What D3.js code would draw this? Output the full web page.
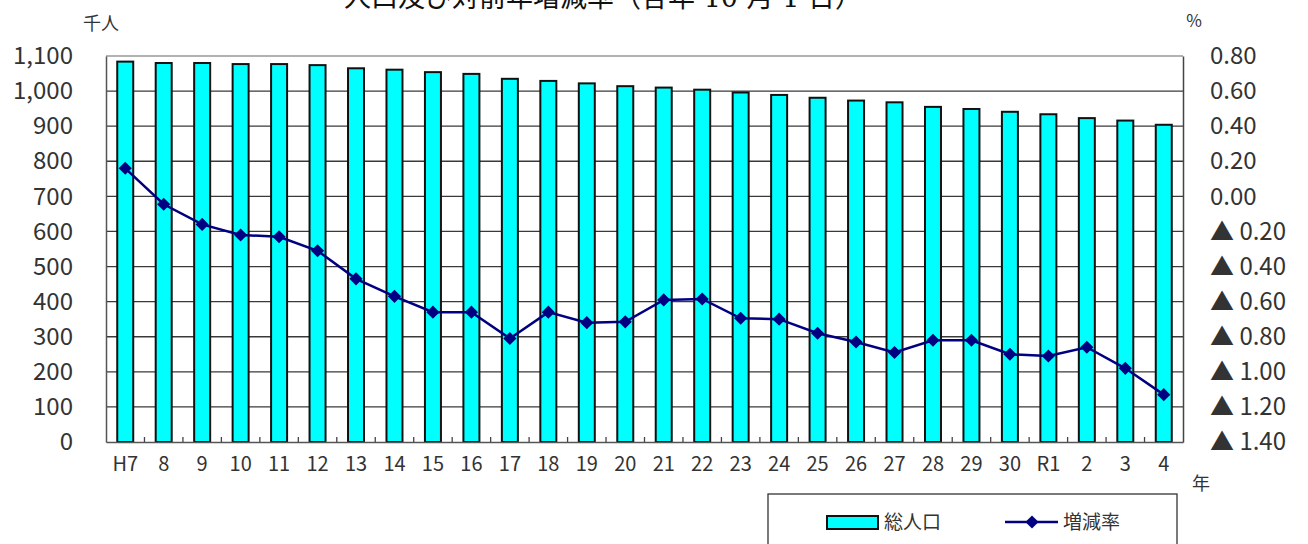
<!DOCTYPE html>
<html>
<head>
<meta charset="utf-8">
<script src="https://cdn.jsdelivr.net/npm/d3@7"></script>
<style>
  body { margin: 0; background: #fff; }
  text { font-family: "Noto Sans CJK JP", "Noto Sans", sans-serif; fill: #333; }
</style>
</head>
<body>
<svg id="chart" width="1308" height="544"></svg>
<script>
// years (H = Heisei, R = Reiwa)
const years = ["H7","8","9","10","11","12","13","14","15","16","17","18","19","20",
               "21","22","23","24","25","26","27","28","29","30","R1","2","3","4"];
// total population, thousand people
const population = [1084,1080,1080,1077,1077,1074,1065,1061,1054,1049,1035,1029,1022,1014,
                    1010,1004,996,989,981,973,968,955,949,941,934,923,916,904];
// change vs previous year, %
const changeRate = [0.16,-0.045,-0.16,-0.22,-0.23,-0.31,-0.47,-0.57,-0.66,-0.66,-0.81,-0.66,-0.72,-0.715,
                    -0.59,-0.585,-0.695,-0.70,-0.78,-0.83,-0.89,-0.82,-0.82,-0.90,-0.91,-0.86,-0.98,-1.13];
const leftTicks = d3.range(0, 1101, 100);
const rightTicks = [0.8,0.6,0.4,0.2,0,-0.2,-0.4,-0.6,-0.8,-1.0,-1.2,-1.4];

const svg = d3.select("#chart");
const margin = {top: 56, right: 125, bottom: 102, left: 106};
const W = 1308, H = 544;
const x0 = margin.left, x1 = W - margin.right;
const y0 = H - margin.bottom, y1 = margin.top;

const x = d3.scaleBand().domain(years).range([x0, x1]);
const yL = d3.scaleLinear().domain([0, 1100]).range([y0, y1]);
const yR = d3.scaleLinear().domain([-1.4, 0.8]).range([y0, y1]);

// title, cut off at the top of the picture like the original
svg.append("text")
    .attr("x", 603).attr("y", 7)
    .attr("text-anchor", "middle")
    .style("font-size", "27px")
    .style("font-family", "'DejaVu Serif', 'Noto Sans CJK JP', serif")
    .style("fill", "#111")
    .text("人口及び対前年増減率（各年 10 月 1 日）");

// gridlines
svg.append("g").selectAll("line")
    .data(leftTicks.filter(d => d > 0 && d < 1100))
    .join("line")
    .attr("x1", x0).attr("x2", x1)
    .attr("y1", d => yL(d)).attr("y2", d => yL(d))
    .attr("stroke", "#3a3a3a").attr("stroke-width", 1.3);

// plot border top
svg.append("line")
    .attr("x1", x0).attr("x2", x1).attr("y1", y1).attr("y2", y1)
    .attr("stroke", "#999").attr("stroke-width", 1.5);

// left axis
const leftAxis = d3.axisLeft(yL).tickValues(leftTicks).tickSize(0).tickPadding(33)
    .tickFormat(d3.format(","));
const gL = svg.append("g").attr("transform", `translate(${x0},0)`).call(leftAxis);
gL.select(".domain").attr("stroke", "#555").attr("stroke-width", 1.5);
gL.selectAll("text").style("font-size", "24px").style("font-family", "'Noto Sans CJK JP', sans-serif").style("fill", "#333");

// right axis
const rightAxis = d3.axisRight(yR).tickValues(rightTicks).tickSize(0).tickPadding(27)
    .tickFormat(d => d < 0 ? "▲ " + d3.format(".2f")(-d) : d3.format(".2f")(Math.abs(d)));
const gR = svg.append("g").attr("transform", `translate(${x1},0)`).call(rightAxis);
gR.select(".domain").attr("stroke", "#444").attr("stroke-width", 1.5);
gR.selectAll("text").style("font-size", "24px").style("font-family", "'Noto Sans CJK JP', sans-serif").style("fill", "#333");

// bars
svg.append("g").selectAll("rect")
    .data(years)
    .join("rect")
    .attr("x", d => x(d) + x.bandwidth() / 2 - 8)
    .attr("width", 16)
    .attr("y", (d, i) => yL(population[i]))
    .attr("height", (d, i) => y0 - yL(population[i]))
    .attr("fill", "#00ffff")
    .attr("stroke", "#111").attr("stroke-width", 2);

// bottom axis
const bottomAxis = d3.axisBottom(x).tickSize(0).tickPadding(15);
const gB = svg.append("g").attr("transform", `translate(0,${y0})`).call(bottomAxis);
gB.select(".domain").attr("stroke", "#555").attr("stroke-width", 1.5);
gB.selectAll("text").style("font-size", "20px").style("font-family", "'Noto Sans CJK JP', sans-serif").style("fill", "#333");
gB.selectAll(".sep").data(years.slice(1)).join("line").attr("class", "sep")
    .attr("x1", d => x(d)).attr("x2", d => x(d))
    .attr("y1", 0).attr("y2", -5)
    .attr("stroke", "#444").attr("stroke-width", 1.3);

// rate line
const line = d3.line().x((d, i) => x(years[i]) + x.bandwidth() / 2).y(d => yR(d));
svg.append("path").datum(changeRate)
    .attr("d", line)
    .attr("fill", "none").attr("stroke", "#000080").attr("stroke-width", 2.5);
svg.append("g").selectAll("path")
    .data(changeRate)
    .join("path")
    .attr("transform", (d, i) => `translate(${x(years[i]) + x.bandwidth() / 2},${yR(d)})`)
    .attr("d", d3.symbol(d3.symbolDiamond2, 110))
    .attr("fill", "#000080");

// unit labels
svg.append("text").attr("x", 101).attr("y", 30).attr("text-anchor", "middle")
    .style("font-size", "18px").text("千人");
svg.append("text").attr("x", 1194).attr("y", 27).attr("text-anchor", "middle")
    .style("font-size", "17px").text("%");
svg.append("text").attr("x", 1201).attr("y", 490).attr("text-anchor", "middle")
    .style("font-size", "18px").text("年");

// legend
const lg = svg.append("g");
lg.append("rect").attr("x", 768).attr("y", 494).attr("width", 409).attr("height", 60)
    .attr("fill", "#fff").attr("stroke", "#333").attr("stroke-width", 1.3);
lg.append("rect").attr("x", 827).attr("y", 516).attr("width", 51).attr("height", 13)
    .attr("fill", "#00ffff").attr("stroke", "#111").attr("stroke-width", 2);
lg.append("text").attr("x", 884).attr("y", 529).style("font-size", "19px").text("総人口");
lg.append("line").attr("x1", 1005).attr("x2", 1058).attr("y1", 522).attr("y2", 522)
    .attr("stroke", "#000080").attr("stroke-width", 2.5);
lg.append("path").attr("transform", "translate(1032,522)")
    .attr("d", d3.symbol(d3.symbolDiamond2, 110)).attr("fill", "#000080");
lg.append("text").attr("x", 1063).attr("y", 529).style("font-size", "19px").text("増減率");
</script>
</body>
</html>
